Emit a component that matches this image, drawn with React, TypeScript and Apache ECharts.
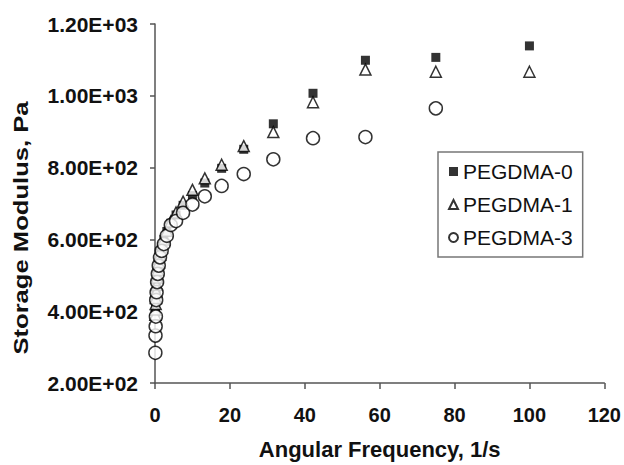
import React, { useEffect, useRef } from "react";
import * as echarts from "echarts";

const freq = [0.1, 0.133, 0.178, 0.237, 0.316, 0.422, 0.562, 0.75, 1, 1.33, 1.78, 2.37, 3.16, 4.22, 5.62, 7.5, 10, 13.3, 17.8, 23.7, 31.6, 42.2, 56.2, 75, 100];
const pegdma0 = [398, 415, 430, 445, 462, 480, 500, 520, 540, 560, 580, 600, 622, 645, 668, 695, 722, 757, 798, 851, 922, 1007, 1099, 1107, 1139];
const pegdma1 = [390, 405, 420, 437, 455, 474, 494, 515, 536, 557, 578, 600, 624, 650, 675, 705, 738, 770, 808, 860, 899, 982, 1073, 1067, 1067];
const pegdma3 = [284, 332, 358, 385, 431, 453, 481, 504, 527, 550, 568, 587, 610, 640, 651, 674, 697, 720, 749, 782, 823, 882, 885, 965];
const seriesNames = ["PEGDMA-0", "PEGDMA-1", "PEGDMA-3"];
const yTickLabels = ["2.00E+02", "4.00E+02", "6.00E+02", "8.00E+02", "1.00E+03", "1.20E+03"];
const xTitle = "Angular Frequency, 1/s";
const yTitle = "Storage Modulus, Pa";

const FONT = "'Liberation Sans', Arial, sans-serif";

export default function App() {
  const ref = useRef<HTMLDivElement>(null);
  useEffect(() => {
    if (!ref.current) return;
    const chart = echarts.init(ref.current, null, { renderer: "svg" });
    const pairs = (ys: number[]) => ys.map((y, i) => [freq[i], y]);
    chart.setOption({
      animation: false,
      backgroundColor: "#fff",
      grid: { left: 155, top: 24, right: 16, bottom: 78, containLabel: false },
      xAxis: {
        type: "value",
        min: 0,
        max: 120,
        interval: 20,
        name: xTitle,
        nameLocation: "middle",
        nameGap: 55,
        nameTextStyle: { fontFamily: FONT, fontWeight: "bold", fontSize: 22, color: "#111" },
        axisLine: { show: true, lineStyle: { color: "#555", width: 1.5 } },
        axisTick: { show: true, inside: false, length: 6, lineStyle: { color: "#555", width: 1.5 } },
        axisLabel: { margin: 22, fontFamily: FONT, fontWeight: "bold", fontSize: 20, color: "#111" },
        splitLine: { show: false },
      },
      yAxis: {
        type: "value",
        min: 200,
        max: 1200,
        interval: 200,
        axisLine: { show: true, lineStyle: { color: "#555", width: 1.5 } },
        axisTick: { show: true, inside: false, length: 5, lineStyle: { color: "#555", width: 1.5 } },
        axisLabel: {
          margin: 17,
          fontFamily: FONT,
          fontWeight: "bold",
          fontSize: 21,
          color: "#111",
          formatter: (v: number) => yTickLabels[Math.round((v - 200) / 200)] ?? "",
        },
        splitLine: { show: false },
      },
      legend: {
        orient: "vertical",
        left: 438,
        top: 152,
        padding: [9, 10, 9, 10],
        itemGap: 12,
        itemWidth: 9,
        itemHeight: 9,
        borderColor: "#777",
        borderWidth: 1.5,
        backgroundColor: "#fff",
        textStyle: { fontFamily: FONT, fontSize: 21, color: "#111", padding: [0, 0, 0, 0] },
        data: seriesNames,
      },
      graphic: [
        {
          type: "text",
          x: 21,
          y: 228,
          rotation: Math.PI / 2,
          scaleX: 1.22,
          style: {
            text: yTitle,
            fontFamily: FONT,
            fontWeight: "bold",
            fontSize: 21,
            fill: "#111",
            align: "center",
            verticalAlign: "middle",
          },
        },
      ],
      series: [
        {
          name: seriesNames[0],
          type: "scatter",
          symbol: "rect",
          symbolSize: 9,
          itemStyle: { color: "#000" },
          data: pairs(pegdma0),
        },
        {
          name: seriesNames[1],
          type: "scatter",
          symbol: "triangle",
          symbolSize: 11,
          itemStyle: { color: "#fff", borderColor: "#000", borderWidth: 1.5 },
          data: pairs(pegdma1),
        },
        {
          name: seriesNames[2],
          type: "scatter",
          symbol: "circle",
          symbolSize: 13,
          itemStyle: { color: "#fff", borderColor: "#000", borderWidth: 1.5 },
          data: pairs(pegdma3),
        },
      ],
    });
    return () => chart.dispose();
  }, []);
  return (
    <div
      ref={ref}
      style={{ position: "fixed", left: 0, top: 0, width: 624, height: 465, background: "#fff" }}
    />
  );
}
